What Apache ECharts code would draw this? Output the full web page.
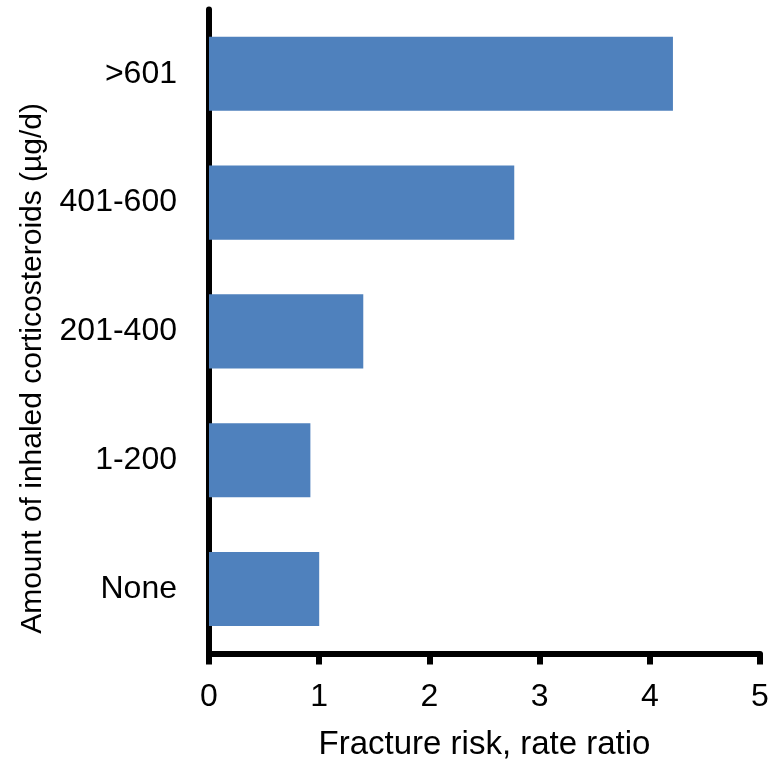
<!DOCTYPE html>
<html>
<head>
<meta charset="utf-8">
<style>
  html, body { margin: 0; padding: 0; background: #fff; }
  #myChart { width: 775px; height: 769px; }
</style>
<script src="https://cdn.jsdelivr.net/npm/echarts@6/dist/echarts.min.js"></script>
</head>
<body>
<div id="myChart"></div>
<script>
// bottom to top, as drawn on the axis
let categories = ['None', '1-200', '201-400', '401-600', '>601']
let rateRatio = [1.0, 0.92, 1.40, 2.77, 4.21]
let xTicks = [0, 1, 2, 3, 4, 5]

let font = 'Liberation Sans, Arial, sans-serif'

let myChart = echarts.init(document.getElementById('myChart'))
myChart.setOption({
  animation: false,
  grid: {
    left: 209,
    right: 15,
    top: 9.4,
    bottom: 115.6,
    containLabel: false
  },
  xAxis: {
    type: 'value',
    min: xTicks[0],
    max: xTicks[xTicks.length - 1],
    interval: 1,
    name: 'Fracture risk, rate ratio',
    nameLocation: 'middle',
    nameGap: 75,
    nameTextStyle: { color: '#000', fontSize: 33, fontFamily: font },
    axisLine: { show: true, lineStyle: { color: '#000', width: 6 } },
    axisTick: { show: true, length: 11, lineStyle: { color: '#000', width: 6 } },
    axisLabel: { color: '#000', fontSize: 32, fontFamily: font, margin: 28 },
    splitLine: { show: false }
  },
  yAxis: {
    type: 'category',
    data: categories,
    name: 'Amount of inhaled corticosteroids (\u00b5g/d)',
    nameLocation: 'middle',
    nameRotate: 90,
    nameGap: 161,
    nameTextStyle: { color: '#000', fontSize: 30, fontFamily: font, padding: [0, 74, 0, 0] },
    axisLine: { show: true, lineStyle: { color: '#000', width: 6 } },
    axisTick: { show: false },
    axisLabel: { color: '#000', fontSize: 32, fontFamily: font, margin: 32 },
    splitLine: { show: false }
  },
  series: [
    {
      type: 'bar',
      data: rateRatio,
      barCategoryGap: '42.5%',
      itemStyle: { color: '#4F81BD' }
    }
  ]
})
</script>
</body>
</html>
